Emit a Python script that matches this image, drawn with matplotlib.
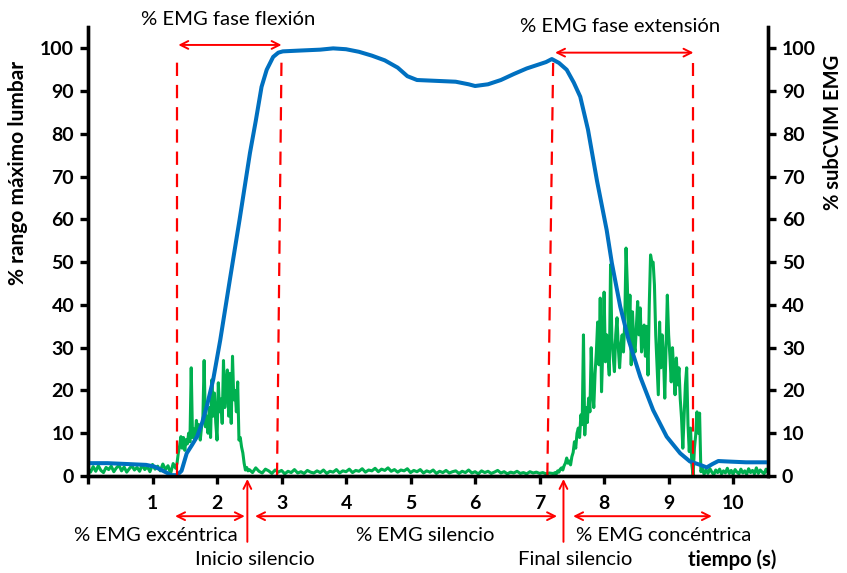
import numpy as np
import matplotlib
matplotlib.use("Agg")
import matplotlib.pyplot as plt

plt.rcParams['font.family'] = ['Lato', 'DejaVu Sans']

BLUE = '#0070C0'
GREEN = '#00B050'
RED = '#FF0000'

# lumbar range (% of max)
rom_t = [0.0, 0.3, 0.6, 0.9, 1.03, 1.19, 1.29, 1.38, 1.45, 1.53, 1.61, 1.69, 1.77,
         1.84, 1.94, 2.05, 2.2, 2.35, 2.51, 2.6, 2.69, 2.77, 2.87, 2.95, 3.02,
         3.3, 3.6, 3.8, 4.0, 4.2, 4.4, 4.6, 4.8, 4.95, 5.1, 5.4, 5.7, 5.9, 6.0,
         6.2, 6.4, 6.6, 6.8, 7.0, 7.1, 7.19, 7.3, 7.42, 7.53, 7.63, 7.75, 7.89,
         8.04, 8.12, 8.25, 8.38, 8.56, 8.76, 8.97, 9.18, 9.33, 9.49, 9.59, 9.68,
         9.77, 9.9, 10.2, 10.54]
rom = [3.0, 3.0, 2.8, 2.6, 2.2, 1.0, 0.2, 0.2, 1.2, 5.3, 7.2, 9.2, 12.5,
       16.2, 22.5, 31.8, 46.0, 60.0, 75.5, 83.0, 91.0, 95.0, 98.0, 99.0, 99.3,
       99.5, 99.7, 100.0, 99.8, 99.2, 98.3, 97.2, 95.5, 93.5, 92.6, 92.4, 92.2, 91.6, 91.2,
       91.6, 92.6, 94.0, 95.3, 96.3, 96.8, 97.5, 96.6, 95.0, 92.0, 88.7, 81.0, 69.0,
       57.5, 49.8, 39.6, 31.8, 23.2, 15.4, 9.2, 5.3, 3.4, 2.6, 2.0, 2.8,
       3.5, 3.4, 3.2, 3.2]

# EMG (% subCVIM), read segment by segment
emg_rest = [1.8, 0.9, 2.2, 1.1, 2.4, 1.3, 0.8, 2.0, 1.5, 2.3, 1.0, 1.9, 2.5, 1.2,
            2.1, 0.9, 1.7, 2.4, 1.4, 2.0, 1.1, 2.6, 1.5, 2.2, 1.0, 2.7, 1.6, 2.3,
            1.2, 2.8, 1.5, 2.4, 0.6, 2.9, 1.8]  # 0.00 - 1.36 s
emg_flex = [3.0, 5.4, 7.0, 9.2, 6.5, 9.0, 6.0, 8.5, 7.5, 10.0, 8.0, 25.3, 9.0, 11.0,
            8.5, 13.0, 10.5, 12.0, 8.4, 11.5, 13.0, 27.0, 11.5, 14.0, 10.0, 16.0,
            9.0, 22.5, 14.0, 19.4, 12.5, 8.4, 21.8, 15.0, 18.0, 12.3, 27.0, 16.0,
            21.0, 24.8, 14.0, 24.0, 12.3, 28.0, 17.8, 20.0, 15.0, 22.0, 8.4, 9.0,
            6.8, 5.4, 3.0, 1.4, 2.0, 1.2]  # 1.38 - 2.48 s
emg_silence = [1.5, 0.8, 1.9, 1.1, 0.7, 1.6, 1.2, 0.6, 1.4, 0.9,
               1.3, 0.5, 1.1, 0.8, 1.5, 0.7, 1.0, 0.6, 1.3, 0.9,
               0.7, 1.2, 0.8, 1.4, 0.6, 1.1, 0.9, 1.5, 0.7, 1.2,
               1.0, 1.6, 0.8, 1.3, 1.1, 1.7, 0.9, 1.4, 1.2, 1.8,
               1.0, 1.6, 1.3, 1.9, 1.1, 1.5, 0.9, 1.4, 1.2, 1.7,
               0.8, 1.3, 1.0, 1.5, 0.7, 1.2, 0.9, 1.4, 0.6, 1.1,
               0.8, 1.3, 0.7, 1.0, 1.2, 0.6, 1.1, 0.8, 1.4, 0.7,
               1.0, 0.5, 1.2, 0.8, 1.1, 0.6, 0.9, 1.3, 0.7, 1.0,
               0.5, 0.9, 0.7, 1.1, 0.6, 0.8, 0.5, 1.0, 0.7, 0.9,
               0.6, 0.8, 0.5, 0.7, 0.6]  # 2.50 - 7.20 s
emg_ext = [0.6, 0.8, 0.5, 1.2, 0.9, 1.6, 1.9, 1.4, 2.4, 3.0, 4.2, 3.0, 3.5, 2.6,
           4.5, 5.5, 8.0, 6.5, 10.0, 11.2, 9.0, 14.3, 12.0, 33.0, 9.6, 16.0, 12.5,
           18.2, 15.0, 30.0, 20.0, 16.0, 24.0, 29.0, 36.0, 26.0, 41.6, 19.7, 30.0,
           43.0, 26.7, 33.0, 28.0, 23.6, 49.4, 32.3, 28.0, 24.4, 33.0, 37.0, 30.0,
           25.3, 30.6, 33.0, 29.0, 36.0, 53.3, 44.7, 33.0, 42.3, 26.0, 38.4, 31.0,
           29.0, 35.0, 40.8, 33.0, 39.3, 29.0, 32.0, 35.3, 28.0, 35.0, 23.6, 40.0,
           51.7, 50.0, 50.0, 44.7, 33.0, 26.0, 19.0, 36.0, 25.3, 33.0, 28.0, 18.2,
           30.0, 42.3, 33.0, 28.0, 22.0, 30.0, 24.0, 19.0, 27.6, 21.3, 25.3, 18.0,
           13.6, 6.5, 14.0, 21.3, 25.3, 12.0, 5.7, 11.2, 2.6, 0.2, 6.5, 9.6, 15.0,
           10.0, 14.7, 1.0]  # 7.22 - 9.50 s
emg_tail = [1.8, 0.4, 1.5, 0.6, 1.7, 0.9, 0.3, 1.4, 0.8, 1.6, 0.5, 1.2, 0.7, 1.8,
            0.6, 1.3, 0.4, 1.5, 0.9, 0.5, 1.6, 0.7, 1.2, 0.4, 1.7, 0.8, 1.3, 0.5,
            1.9, 0.6, 1.4, 0.9, 0.5, 1.6, 0.8]  # 9.52 - 10.54 s

emg_segments = [(0.0, 1.36, emg_rest), (1.38, 2.48, emg_flex), (2.50, 7.20, emg_silence),
                (7.22, 9.50, emg_ext), (9.52, 10.54, emg_tail)]

# phase marks (dashed lines): bottom x, top x, top y
mark_bottom = [1.38, 2.93, 7.12, 9.38]
mark_top = [1.38, 3.00, 7.21, 9.38]
mark_height = [97.3, 98.5, 96.6, 96.6]

x_ticks = list(range(0, 11))
y_ticks = list(range(0, 101, 10))

FS = 14.6


def main():
    fig = plt.figure(figsize=(8.47, 5.73), dpi=100)
    ax = fig.add_axes([0.1039, 0.1693, 0.8028, 0.7836])

    emg_t = np.concatenate([np.linspace(a, b, len(v)) for a, b, v in emg_segments])
    emg = np.concatenate([v for _, _, v in emg_segments])

    ax.plot(emg_t, emg, color=GREEN, lw=2.2, zorder=2)
    ax.plot(rom_t, rom, color=BLUE, lw=2.9, zorder=3, solid_capstyle='round')

    for xb, xt, h in zip(mark_bottom, mark_top, mark_height):
        ax.plot([xb, xt], [0, h], color=RED, lw=1.6, dashes=(6, 4), zorder=4)

    ax.set_xlim(0, 10.54)
    ax.set_ylim(0, 105)
    ax.set_xticks(x_ticks)
    ax.set_xticklabels([''] + [str(x) for x in x_ticks[1:]])
    ax.set_yticks(y_ticks)

    ax2 = ax.twinx()
    ax2.set_ylim(0, 105)
    ax2.set_yticks(y_ticks)

    for a in (ax, ax2):
        for s in a.spines.values():
            s.set_linewidth(2.4)
        a.spines['top'].set_visible(False)
        a.tick_params(width=2.4, length=6, labelsize=14, pad=4)
        for lab in a.get_xticklabels() + a.get_yticklabels():
            lab.set_fontweight('bold')
    ax.tick_params(axis='x', pad=8)

    ax.set_ylabel('% rango máximo lumbar', fontsize=15, fontweight='bold')
    ax2.set_ylabel('% subCVIM EMG', fontsize=14.5, fontweight='bold')
    ax.yaxis.set_label_coords(-0.088, 0.675)
    ax2.yaxis.set_label_coords(1.081, 0.765)

    arrow = dict(arrowstyle='<->', color=RED, lw=1.4, mutation_scale=14,
                 shrinkA=0, shrinkB=0)
    up = dict(arrowstyle='->', color=RED, lw=1.4, mutation_scale=14,
              shrinkA=0, shrinkB=0)

    # top phase annotations
    ax.annotate('', xy=(1.40, 100.8), xytext=(3.0, 100.8), arrowprops=arrow,
                annotation_clip=False)
    ax.annotate('', xy=(7.24, 99.0), xytext=(9.385, 99.0), arrowprops=arrow,
                annotation_clip=False)
    ax.text(2.17, 106.7, '% EMG fase flexión', fontsize=FS, ha='center', va='center')
    ax.text(8.25, 105.0, '% EMG fase extensión', fontsize=FS, ha='center', va='center')

    # bottom phase annotations
    ax.annotate('', xy=(1.35, -9.4), xytext=(2.43, -9.4), arrowprops=arrow,
                annotation_clip=False)
    ax.annotate('', xy=(2.59, -9.4), xytext=(7.27, -9.4), arrowprops=arrow,
                annotation_clip=False)
    ax.annotate('', xy=(7.52, -9.4), xytext=(9.67, -9.4), arrowprops=arrow,
                annotation_clip=False)
    ax.annotate('', xy=(2.47, -0.7), xytext=(2.47, -15.4), arrowprops=up,
                annotation_clip=False)
    ax.annotate('', xy=(7.37, -0.7), xytext=(7.37, -15.4), arrowprops=up,
                annotation_clip=False)

    ax.text(1.05, -13.8, '% EMG excéntrica', fontsize=FS, ha='center', va='center')
    ax.text(5.22, -13.8, '% EMG silencio', fontsize=FS, ha='center', va='center')
    ax.text(8.93, -13.8, '% EMG concéntrica', fontsize=FS, ha='center', va='center')
    ax.text(2.59, -19.6, 'Inicio silencio', fontsize=FS, ha='center', va='center')
    ax.text(7.55, -19.6, 'Final silencio', fontsize=FS, ha='center', va='center')
    ax.text(9.98, -19.6, 'tiempo (s)', fontsize=FS, fontweight='bold',
            ha='center', va='center')

    fig.savefig('out.png', dpi=100)


if __name__ == '__main__':
    main()
